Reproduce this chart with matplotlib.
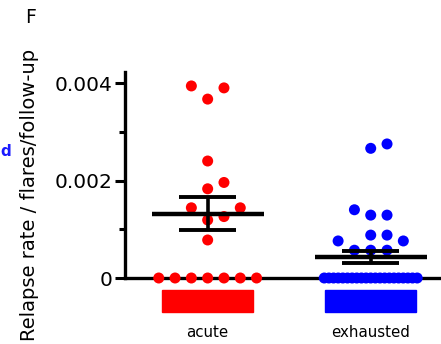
import numpy as np
import matplotlib
matplotlib.use("Agg")
import matplotlib.pyplot as plt
from matplotlib.patches import Rectangle

# ---- data -----------------------------------------------------------------
groups = ["acute", "exhausted"]
group_colors = ["#ff0000", "#0000ff"]

acute = [0.0039, 0.00367, 0.00394, 0.0024, 0.00196, 0.00183, 0.00144, 0.00144,
         0.00119, 0.00126, 0.00078] + [0.0] * 7
exhausted = [0.00266, 0.00275, 0.00129, 0.00129, 0.0014, 0.00088, 0.00088,
             0.00076, 0.00076, 0.00057, 0.00057, 0.00057] + [0.0] * 21
series = [acute, exhausted]

ytick_values = [0.0, 0.002, 0.004]
ytick_labels = ["0", "0.002", "0.004"]
ylabel = "Relapse rate / flares/follow-up"
panel_letter = "F"

# ---- figure / axes --------------------------------------------------------
W, H, DPI = 441, 344, 100
fig = plt.figure(figsize=(W / DPI, H / DPI), dpi=DPI)
plt.rcParams["font.family"] = ["DejaVu Sans"]

ax_left, ax_bottom, ax_w, ax_h = 125, 66, 316, 206  # pixels
ax = fig.add_axes([ax_left / W, ax_bottom / H, ax_w / W, ax_h / H])
ymax = 0.004226
xlim = (0.493, 2.431)
ax.set_xlim(*xlim)
ax.set_ylim(0, ymax)

px_per_x = ax_w / (xlim[1] - xlim[0])
px_per_y = ax_h / ymax

SLOT = 0.1          # horizontal step between neighbouring dots (data units)
DOT_PX = 14.0       # collision distance between dot centres (pixels)
ROW_HALF = 2.85     # half width (slots) for long rows of identical values


def swarm_offsets(vals):
    vals = np.asarray(vals, dtype=float)
    offs = np.zeros(len(vals))
    placed = []
    uniq, counts = np.unique(vals, return_counts=True)
    crowded = {u for u, c in zip(uniq, counts) if c > 7}
    for u in crowded:
        idx = np.where(vals == u)[0]
        offs[idx] = np.linspace(-ROW_HALF, ROW_HALF, len(idx)) * SLOT
        for i in idx:
            placed.append((offs[i], vals[i]))
    order = np.argsort(vals, kind="stable")
    tries = [0]
    for n in range(1, 10):
        tries += [n, -n]
    for i in order:
        if vals[i] in crowded:
            continue
        for k in tries:
            ox = k * SLOT
            ok = True
            for px_, py_ in placed:
                dx = (ox - px_) * px_per_x
                dy = (vals[i] - py_) * px_per_y
                if np.hypot(dx, dy) < DOT_PX:
                    ok = False
                    break
            if ok:
                break
        offs[i] = k * SLOT
        placed.append((offs[i], vals[i]))
    return offs


dot_size = (11 * 72 / DPI) ** 2
for gi, (vals, col) in enumerate(zip(series, group_colors)):
    xc = gi + 1
    offs = swarm_offsets(vals)
    ax.scatter(xc + offs, vals, s=dot_size, color=col, edgecolors="none",
               zorder=3, clip_on=False)

    v = np.asarray(vals)
    mean = v.mean()
    sem = v.std(ddof=1) / np.sqrt(len(v))
    ax.hlines(mean, xc - 0.344, xc + 0.344, color="black", lw=3.2, zorder=4)
    ax.hlines([mean - sem, mean + sem], xc - 0.176, xc + 0.176,
              color="black", lw=2.8, zorder=4)
    ax.vlines(xc, mean - sem, mean + sem, color="black", lw=2.6, zorder=4)

    # coloured group key below the axis
    y0 = -(312 - 278) / px_per_y
    hgt = (312 - 290) / px_per_y
    ax.add_patch(Rectangle((xc - 0.28, y0), 0.56, hgt, color=col,
                           clip_on=False, zorder=2))

# ---- axes styling ---------------------------------------------------------
for s in ["top", "right"]:
    ax.spines[s].set_visible(False)
ax.spines["left"].set_linewidth(2.4)
ax.spines["bottom"].set_linewidth(2.4)

ax.set_yticks(ytick_values)
ax.set_yticklabels(ytick_labels, fontsize=14.5)
ax.set_yticks([0.001, 0.003], minor=True)
ax.tick_params(axis="y", which="major", length=7, width=2.2, pad=2)
ax.tick_params(axis="y", which="minor", length=4, width=2.2)

ax.set_xticks([1, 2])
ax.set_xticklabels(groups, fontsize=10.8)
ax.tick_params(axis="x", length=3, width=2, pad=31)

fig.text(30 / W, 1 - 195 / H, ylabel, rotation=90, fontsize=14,
         ha="center", va="center")
fig.text(25 / W, 1 - 8 / H, panel_letter, fontsize=13.5, ha="left", va="top")
fig.text(0.5 / W, 1 - 152 / H, "d", fontsize=11, fontweight="bold",
         color="#1a1aff", ha="left", va="center")

fig.savefig("out.png", dpi=DPI)
